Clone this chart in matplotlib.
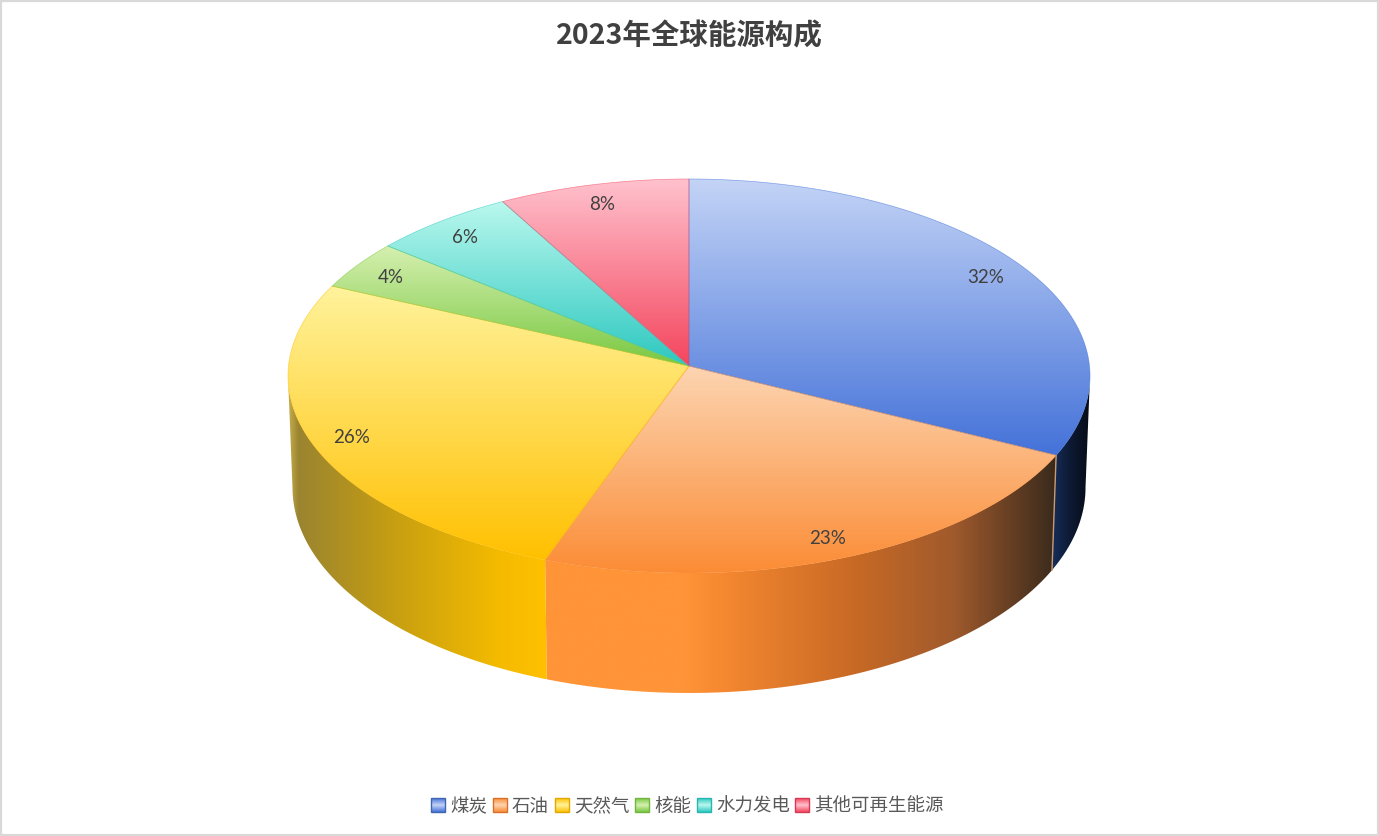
import numpy as np
import matplotlib
matplotlib.use("Agg")
import matplotlib.pyplot as plt
from matplotlib.colors import LinearSegmentedColormap
from matplotlib.patches import Polygon, Rectangle

plt.rcParams['font.family'] = ['Noto Sans CJK SC', 'DejaVu Sans']

title = "2023年全球能源构成"
categories = ["煤炭", "石油", "天然气", "核能", "水力发电", "其他可再生能源"]
values = [32, 23, 26, 4, 6, 8]

# light -> saturated colour of the top faces
top_colors = [("#c4d4f6", "#4472d9"), ("#fdd5b2", "#fb8c35"), ("#fff39c", "#ffc000"),
              ("#d6f0b0", "#78c841"), ("#baf8ee", "#2cc8c0"), ("#ffc2ce", "#f4455d")]
# side walls, left to right, only the three front slices show one
wall_colors = {
    0: [(0, "#162f5c"), (0.4, "#0e1c38"), (1, "#060b14")],
    1: [(0, "#ff9438"), (0.27, "#ff9438"), (0.35, "#f58830"), (0.6, "#c96a25"),
        (0.8, "#a05a2c"), (1, "#3a2a1c")],
    2: [(0, "#c8b050"), (0.04, "#9a8430"), (0.43, "#c9a010"), (0.82, "#f5bb00"), (1, "#ffc000")],
}
legend_colors = ["#3f66b0", "#d9702a", "#e0a800", "#72b540", "#2ab5b0", "#d43a55"]

# pie geometry in pixels, a circle seen in perspective
cx, cy = 689, 366
ax_x, ax_y = 400.5, 196.5
persp = 0.0508
wall_x, wall_y0, wall_y = 396, 477, 205

W, H = 1379, 836
fig = plt.figure(figsize=(W / 100, H / 100), dpi=100)
ax = fig.add_axes([0, 0, 1, 1])


def project(theta, r=1.0):
    u = r * np.sin(theta)
    v = -r * np.cos(theta)
    d = 1 - persp * v
    return cx + ax_x * u / d, cy + ax_y * v / d


def project_wall(theta):
    u = np.sin(theta)
    v = -np.cos(theta)
    d = 1 - persp * v
    return cx + wall_x * u / d, wall_y0 + wall_y * v / d


def fill_gradient(pts, stops, vertical=True, zorder=2):
    x0, y0 = pts.min(axis=0)
    x1, y1 = pts.max(axis=0)
    cmap = LinearSegmentedColormap.from_list("g", stops, N=512)
    ramp = np.linspace(0, 1, 512)
    grad = np.tile(ramp, (2, 1)).T if vertical else np.tile(ramp, (2, 1))
    im = ax.imshow(grad, cmap=cmap, vmin=0, vmax=1, extent=(x0, x1, y1, y0), origin="upper",
                   aspect="auto", interpolation="bilinear", zorder=zorder)
    clip = Polygon(pts, closed=True, transform=ax.transData)
    im.set_clip_path(clip)


edges = np.cumsum([0] + values) / sum(values) * 2 * np.pi
silhouette = np.arccos(-persp)

# side walls first, top faces go over them
for i, stops in wall_colors.items():
    a = max(edges[i], silhouette)
    b = min(edges[i + 1], 2 * np.pi - silhouette)
    th = np.linspace(a, b, 200)
    top = np.column_stack(project(th))
    bottom = np.column_stack(project_wall(th[::-1]))
    fill_gradient(np.vstack([top, bottom]), stops, vertical=False, zorder=2)

# seam between coal and oil walls
th1 = edges[1]
ax.plot(*zip(project(th1), project_wall(th1)), color="#c89a70", lw=1, zorder=3)

for i in range(len(values)):
    th = np.linspace(edges[i], edges[i + 1], 200)
    rim = np.column_stack(project(th))
    pts = np.vstack([[cx, cy], rim])
    fill_gradient(pts, top_colors[i], zorder=4)
    ax.add_patch(Polygon(pts, closed=True, fill=False, ec=top_colors[i][1], lw=0.5, alpha=0.6,
                         zorder=5))

    mid = (edges[i] + edges[i + 1]) / 2
    lx, ly = project(mid, 0.895)
    ax.text(lx - 1, ly + 2, f"{values[i]}%", ha="center", va="center", fontsize=13.5,
            color="#404040", family=["Lato", "DejaVu Sans"], zorder=6)

ax.text(689, 36, title, ha="center", va="center", fontsize=20.5, fontweight="bold",
        color="#404040")

# legend, squares with a small gradient
x = 431
for i, name in enumerate(categories):
    sq = np.array([[x, 798], [x + 14, 798], [x + 14, 812], [x, 812]])
    fill_gradient(sq, [top_colors[i][1], top_colors[i][0], top_colors[i][1]], zorder=4)
    ax.add_patch(Rectangle((x, 798), 14, 14, fill=False, ec=legend_colors[i], lw=1, zorder=5))
    ax.text(x + 19, 807, name, ha="left", va="center", fontsize=13.3, color="#595959")
    x += 19 + 18 * len(name) + 7

ax.add_patch(Rectangle((0, 0), W, H, fill=False, ec="#d9d9d9", lw=3, zorder=7))
ax.set_xlim(0, W)
ax.set_ylim(H, 0)
ax.axis("off")
fig.savefig("out.png", dpi=100, facecolor="white")
